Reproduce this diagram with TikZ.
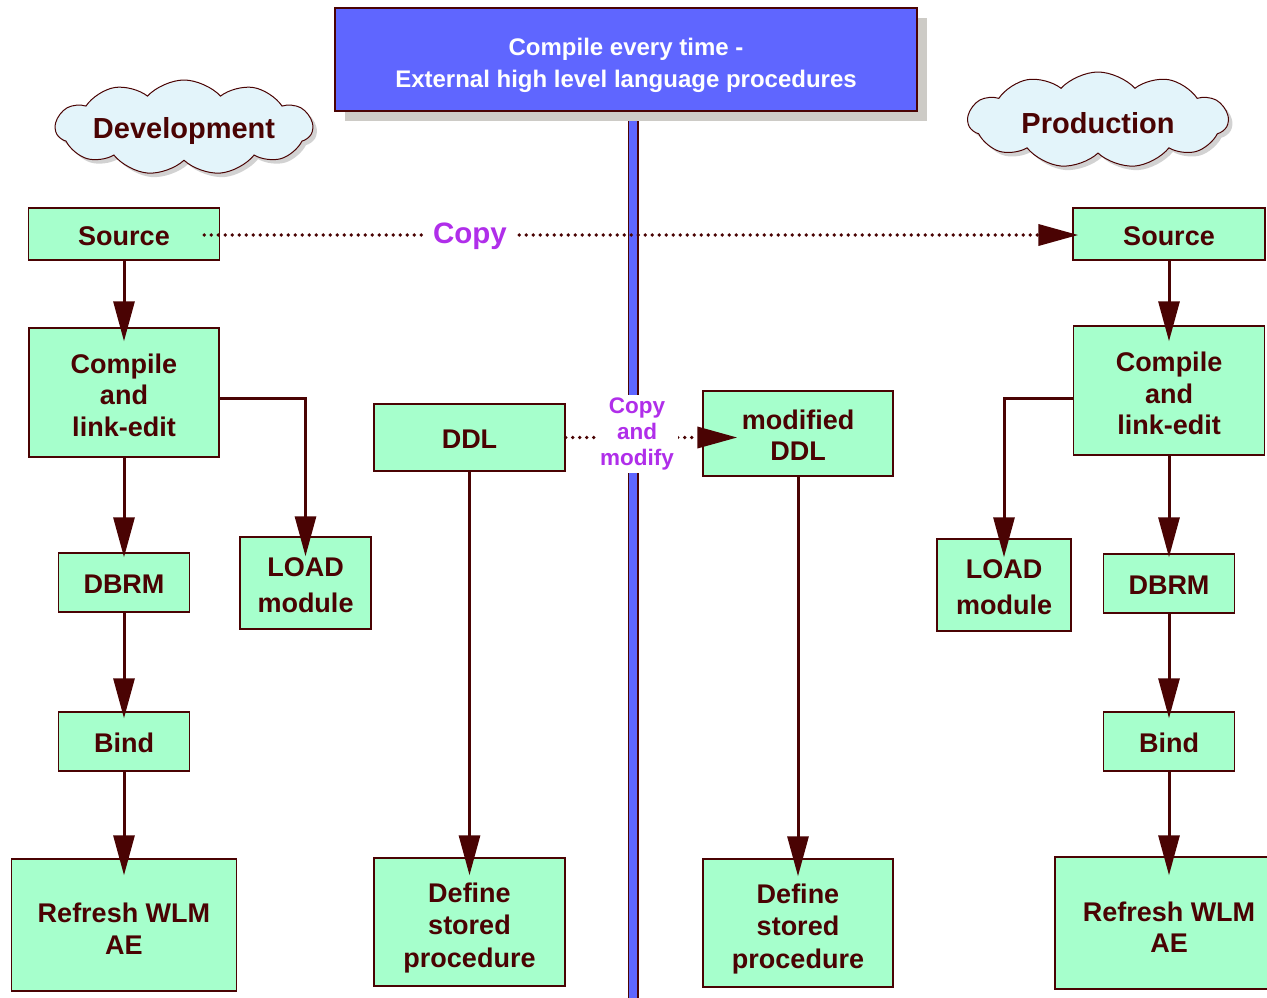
\documentclass[tikz,border=0pt]{standalone}
\usepackage{fontspec}
\setmainfont{Liberation Sans}
\usetikzlibrary{arrows.meta,shapes.symbols,shadows}

\definecolor{boxfill}{HTML}{A6FFCC}
\definecolor{ink}{HTML}{4A0303}
\definecolor{titlefill}{HTML}{5F66FF}
\definecolor{shade}{HTML}{CDCBC6}
\definecolor{copyink}{HTML}{B02EEA}
\definecolor{cloudfill}{HTML}{E3F4FA}

% centred lines, set a little below the geometric middle of their box
\newcommand\boxtext[2][6pt]{\raisebox{-#1}[\height][\depth]{\begin{tabular}{@{}c@{}}#2\end{tabular}}}

\begin{document}
\begin{tikzpicture}[x=1pt,y=-1pt,
  sz/.style 2 args={minimum width=#1pt, minimum height=#2pt},
  stepbox/.style={draw=ink, line width=1.4pt, fill=boxfill, inner sep=0pt,
    align=center, text=ink, font=\fontsize{27}{31.5}\selectfont\bfseries},
  flow/.style={draw=ink, line width=3pt, -{Triangle[length=40pt,width=21pt]}},
  dots/.style={draw=ink, line width=3.7pt, line cap=round,
    dash pattern=on 0pt off 7pt},
  copytip/.style={-{Triangle[length=40pt,width=21pt]}},
  cloudlabel/.style={cloud, cloud puffs=11, cloud puff arc=95,
    cloud ignores aspect, inner sep=0pt, draw=ink, line width=1pt,
    fill=cloudfill, text=ink, font=\fontsize{29}{34}\selectfont\bfseries,
    drop shadow={shadow xshift=4pt, shadow yshift=-4pt, fill=black!35, opacity=0.5}},
  copylabel/.style={fill=white, text=copyink, inner sep=3pt, align=center},
]
\useasboundingbox (0,0) rectangle (1267,997);

% central divider
\filldraw[fill=titlefill, draw=ink, line width=1.3pt] (628.5,112) rectangle (638,1010);

% heading
\node[draw=ink, line width=2pt, fill=titlefill, sz={582}{103}, inner sep=0pt,
  text=white, font=\fontsize{24}{32}\selectfont\bfseries,
  drop shadow={shadow xshift=10pt, shadow yshift=-10pt, fill=shade, opacity=1}]
  (title) at (626,59.5) {\boxtext{Compile every time -\\External high level language procedures}};

% environment clouds
\node[cloudlabel, sz={257}{95}] (dev) at (184,127.5) {\boxtext[4pt]{Development}};
\node[cloudlabel, sz={260}{96}] (prod) at (1098,120) {\boxtext[6.5pt]{Production}};

% development side
\node[stepbox, sz={191}{52}]  (srcL)  at (124,234)   {\boxtext[5pt]{Source}};
\node[stepbox, sz={190}{129}] (cmpL)  at (124,392.5) {\boxtext{Compile\\and\\link-edit}};
\node[stepbox, sz={131}{59}]  (dbrmL) at (124,582.5) {\boxtext[5pt]{DBRM}};
\node[stepbox, sz={131}{59}]  (bindL) at (124,741.5) {\boxtext[4.5pt]{Bind}};
\node[stepbox, sz={225}{132}] (refL)  at (124,925)   {\boxtext[7pt]{Refresh WLM\\AE}};
\node[stepbox, sz={131}{92}]  (loadL) at (305.5,583) {\boxtext[5pt]{LOAD\\[4pt]module}};

% middle: stored procedure definitions
\node[stepbox, sz={191}{67}]  (ddl)  at (469.5,437.5) {\boxtext[5pt]{DDL}};
\node[stepbox, sz={191}{128}] (defL) at (469.5,922)   {\boxtext[6.5pt]{Define\\[1pt]stored\\[1pt]procedure}};
\node[stepbox, sz={190}{85}]  (mddl) at (798,433.5)   {\boxtext[5pt]{modified\\DDL}};
\node[stepbox, sz={190}{128}] (defR) at (798,923)     {\boxtext[6.5pt]{Define\\[1pt]stored\\[1pt]procedure}};

% production side
\node[stepbox, sz={192}{52}]  (srcR)  at (1169,234)   {\boxtext[5pt]{Source}};
\node[stepbox, sz={191}{129}] (cmpR)  at (1169,390.5) {\boxtext[6.5pt]{Compile\\and\\link-edit}};
\node[stepbox, sz={134}{92}]  (loadR) at (1004,585)   {\boxtext[5pt]{LOAD\\[4pt]module}};
\node[stepbox, sz={131}{59}]  (dbrmR) at (1169,583.5) {\boxtext[5pt]{DBRM}};
\node[stepbox, sz={131}{59}]  (bindR) at (1169,741.5) {\boxtext[4.5pt]{Bind}};
\node[stepbox, sz={228}{132}] (refR)  at (1169,923)   {\boxtext[7.5pt]{Refresh WLM\\AE}};

% development flow
\draw[flow, shorten >=-14pt] (srcL) -- (cmpL);
\draw[flow, shorten >=-5pt]  (cmpL) -- (dbrmL);
\draw[flow, shorten >=-20pt] ([yshift=-6pt]cmpL.east) -| (loadL.north);
\draw[flow, shorten >=-7pt]  (dbrmL) -- (bindL);
\draw[flow, shorten >=-17pt] (bindL) -- (refL);

% middle flow
\draw[flow, shorten >=-18pt] (ddl) -- (defL);
\draw[flow, shorten >=-18pt] (mddl) -- (defR);

% production flow
\draw[flow, shorten >=-16pt] (srcR) -- (cmpR);
\draw[flow, shorten >=-4pt]  (cmpR) -- (dbrmR);
\draw[flow, shorten >=-19pt] ([yshift=-8pt]cmpR.west) -| (loadR.north);
\draw[flow, shorten >=-7pt]  (dbrmR) -- (bindR);
\draw[flow, shorten >=-19pt] (bindR) -- (refR);

% copies between environments
\draw[dots, copytip, shorten <=-16pt, shorten >=-6pt] ([yshift=-1pt]srcL.east) -- ([yshift=-1pt]srcR.west);
\node[copylabel, inner xsep=9pt, font=\fontsize{29.5}{34}\selectfont\bfseries] (copy) at (470,236) {Copy};

\draw[dots, copytip, shorten >=-35pt] (ddl.east) -- (ddl.east -| mddl.west);
\node[copylabel, inner xsep=4pt, font=\fontsize{22.5}{26}\selectfont\bfseries] (cmod) at (637,434) {Copy\\and\\modify};
\end{tikzpicture}
\end{document}
